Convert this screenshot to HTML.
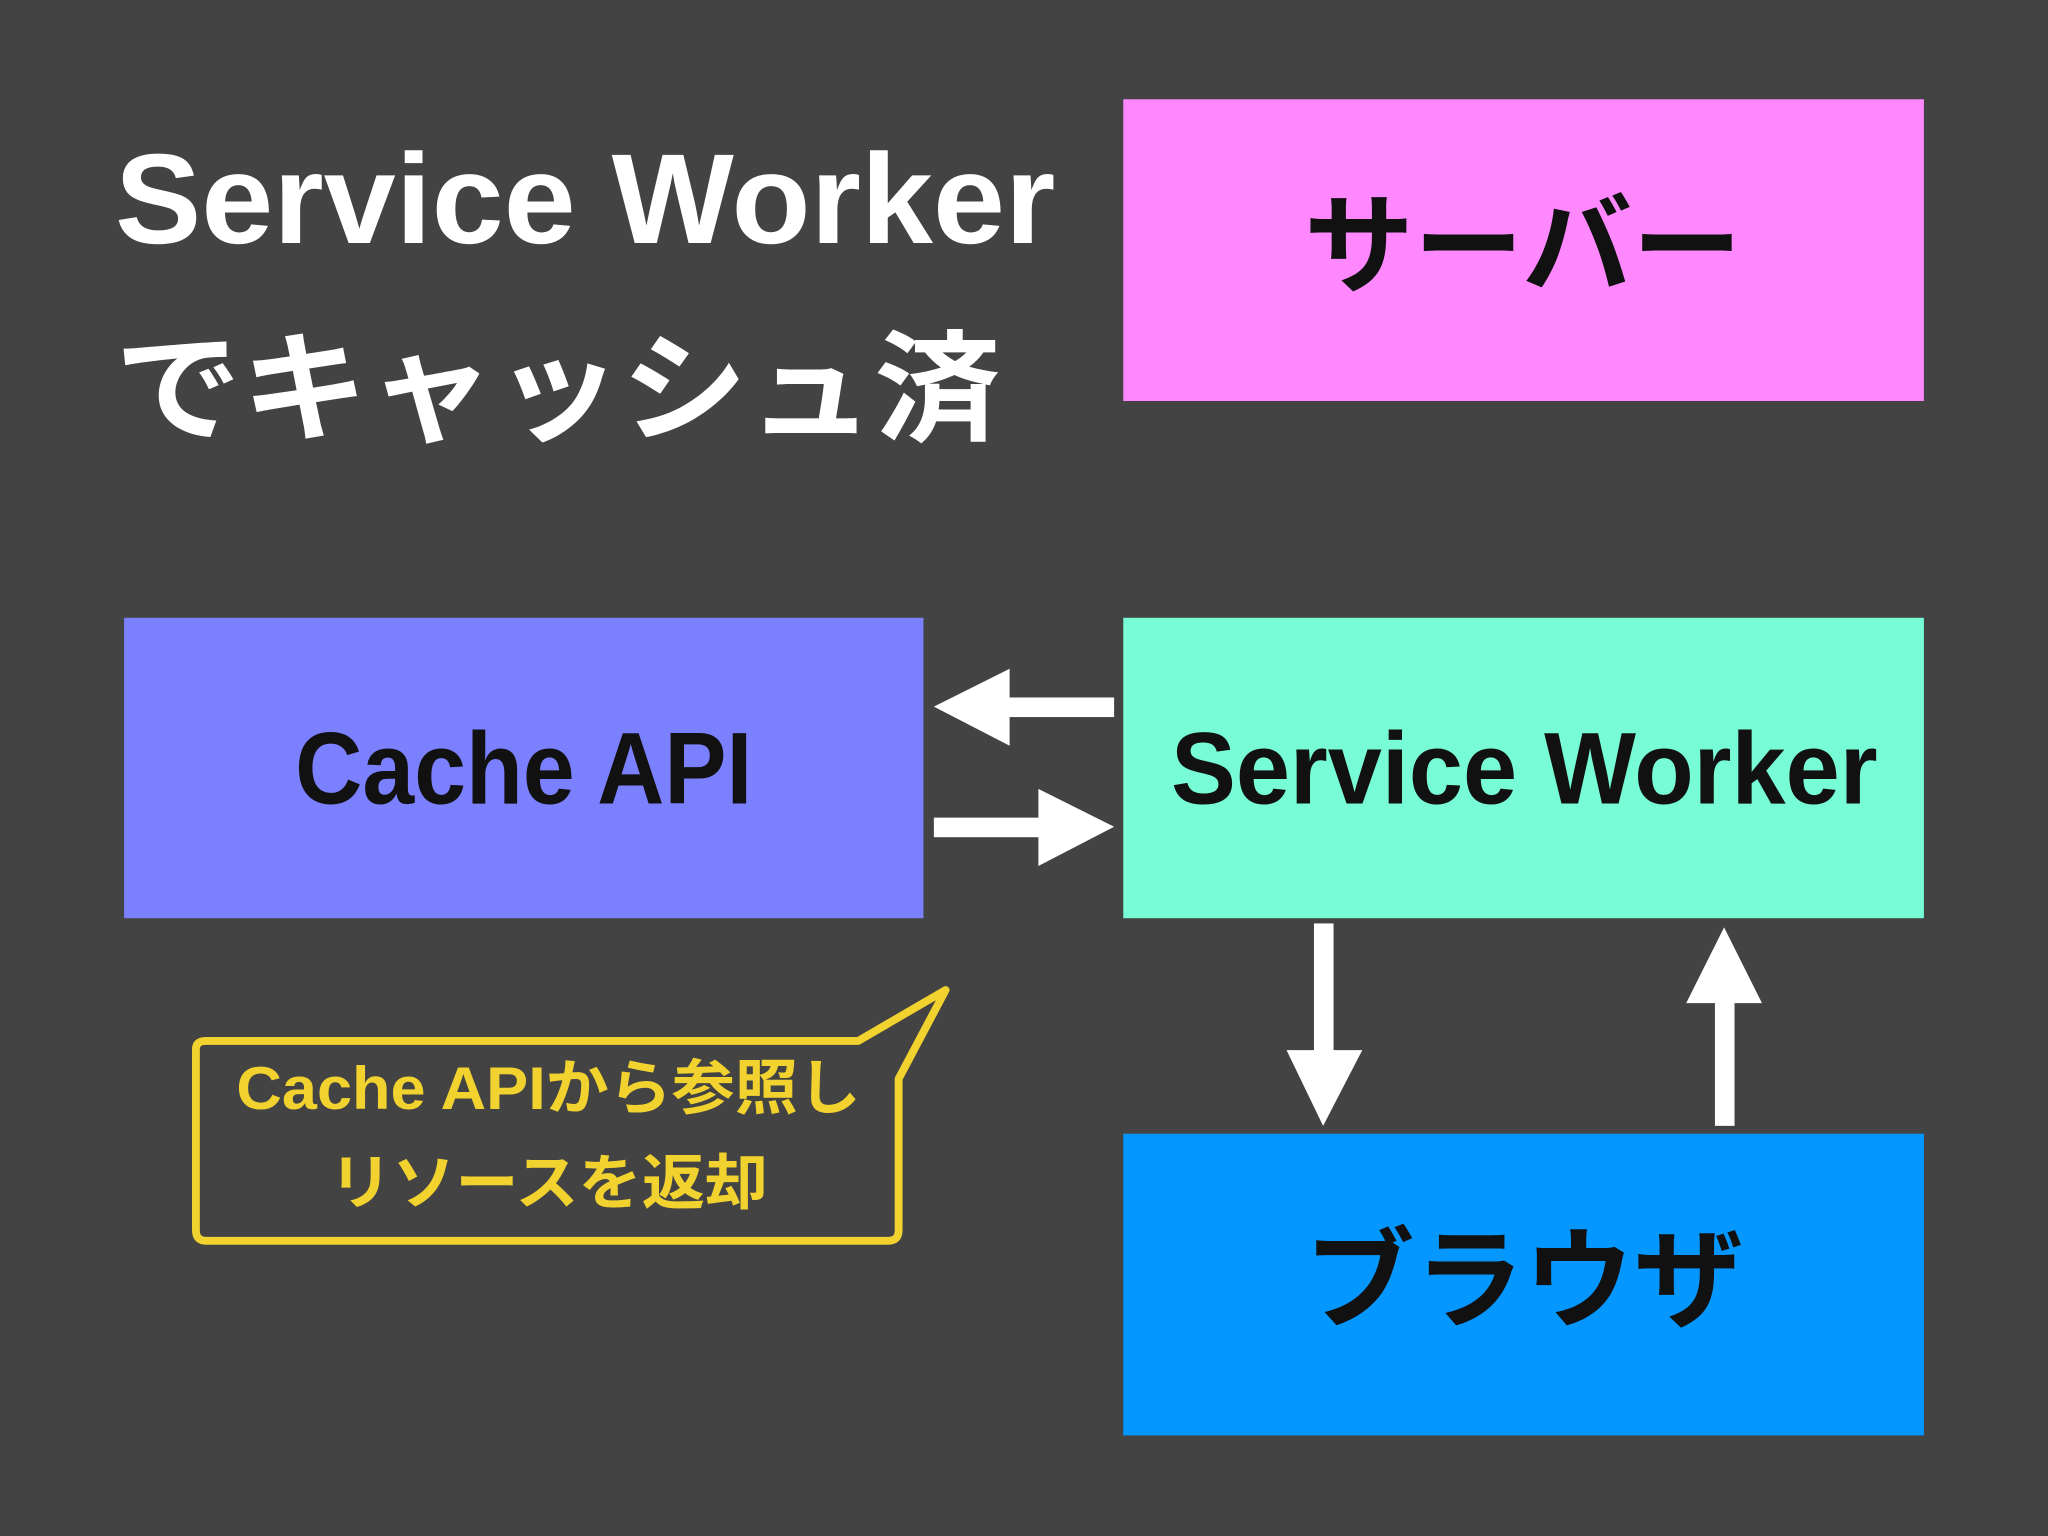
<!DOCTYPE html>
<html><head><meta charset="utf-8"><style>html,body{margin:0;padding:0;background:#434343}svg{display:block}</style></head>
<body>
<svg width="2048" height="1536" viewBox="0 0 1568 1176" xmlns="http://www.w3.org/2000/svg" font-family="'Liberation Sans','Noto Sans CJK JP',sans-serif" font-weight="bold">
<rect width="1568" height="1176" fill="#434343"/>
<text x="88" y="186" font-size="98" fill="#fff" textLength="720" lengthAdjust="spacingAndGlyphs">Service Worker</text>
<text x="88" y="330" font-size="92" fill="#fff" textLength="678" lengthAdjust="spacingAndGlyphs">でキャッシュ済</text>
<rect x="860" y="76" width="613" height="231" fill="#FF88FF"/>
<text x="1166" y="218" font-size="84" text-anchor="middle" fill="#111">サーバー</text>
<rect x="95" y="473" width="612" height="230" fill="#7B80FF"/>
<text x="401" y="615" font-size="78" text-anchor="middle" fill="#111" textLength="350" lengthAdjust="spacingAndGlyphs">Cache API</text>
<rect x="860" y="473" width="613" height="230" fill="#78FCD6"/>
<text x="1167" y="615" font-size="78" text-anchor="middle" fill="#111" textLength="541" lengthAdjust="spacingAndGlyphs">Service Worker</text>
<rect x="860" y="868" width="613" height="231" fill="#0497FF"/>
<text x="1167" y="1010" font-size="84" text-anchor="middle" fill="#111">ブラウザ</text>
<g fill="#fff">
<rect x="772" y="534" width="81" height="15"/><polygon points="715,541 773,512 773,571"/>
<rect x="715" y="626" width="82" height="15"/><polygon points="853,633 795,604 795,663"/>
<rect x="1006" y="707" width="15" height="100"/><polygon points="1013,862 985,804 1043,804"/>
<rect x="1313" y="766" width="15" height="96"/><polygon points="1320,710 1291,768 1349,768"/>
</g>
<path d="M657,797 L724,758 L688,826 L688,942 Q688,950 680,950 L158,950 Q150,950 150,942 L150,803 Q150,797 158,797 Z" fill="none" stroke="#F2D22E" stroke-width="6" stroke-linejoin="round"/>
<text x="420" y="849" font-size="46" text-anchor="middle" fill="#F2D22E" textLength="478" lengthAdjust="spacingAndGlyphs">Cache APIから参照し</text>
<text x="420" y="922" font-size="46" text-anchor="middle" fill="#F2D22E" textLength="336" lengthAdjust="spacingAndGlyphs">リソースを返却</text>
</svg>
</body></html>
